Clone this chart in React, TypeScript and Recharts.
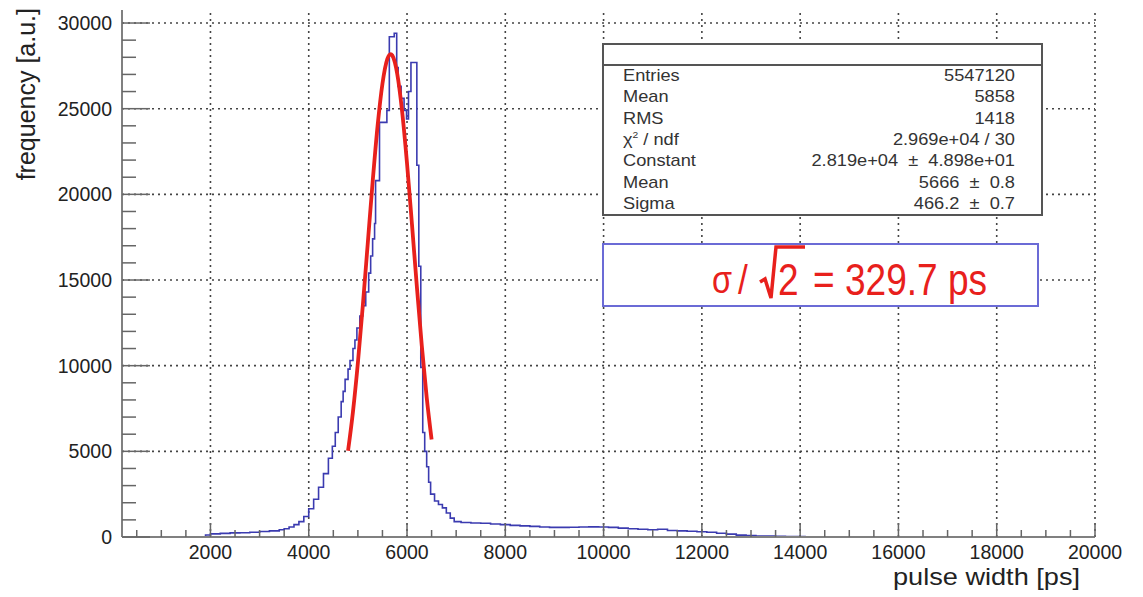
import React from 'react';
import { ComposedChart, Line, XAxis, YAxis, ReferenceLine } from 'recharts';

// Histogram: bin lower edges [ps] and counts
const histEdges = [
  1800, 1900, 2000, 2200, 2400, 2600, 2800, 3000, 3200, 3400, 3500, 3600, 3700, 3800, 3900,
  4000, 4100, 4200, 4300, 4400, 4480, 4540, 4600, 4660, 4700, 4740, 4800, 4840, 4900, 4940,
  4980, 5040, 5100, 5160, 5220, 5260, 5300, 5340, 5360, 5440, 5590, 5640, 5740, 5790, 5820,
  5880, 5940, 5990, 6030, 6080, 6200, 6240, 6280, 6320, 6360, 6400, 6440, 6480, 6560, 6640,
  6720, 6800, 6880, 6960, 7100, 7300, 7500, 7700, 7900, 8100, 8300, 8500, 8700, 8900, 9100,
  9300, 9500, 9700, 9900, 10100, 10300, 10500, 10700, 10900, 11100, 11300, 11500, 11700, 11900, 12100,
  12300, 12500, 12700, 12900, 13100, 13300, 13500, 13700, 13900, 14100, 14300, 14500,
];
const histCounts = [
  0, 120, 180, 210, 240, 250, 280, 320, 360, 420, 480, 580, 720, 900, 1200,
  1650, 2200, 2900, 3700, 4600, 5300, 6100, 7000, 7900, 8500, 9200, 9800, 10300, 11000, 11500,
  12200, 12900, 13500, 14300, 15400, 16400, 17400, 18300, 20800, 24200, 24900, 29200, 29400, 27400, 26300,
  25600, 24900, 24400, 26000, 27700, 21700, 15800, 9900, 6100, 5000, 4100, 3200, 2500, 2100, 1900,
  1700, 1400, 1100, 900, 850, 820, 800, 760, 720, 680, 650, 620, 580, 560, 560,
  570, 580, 590, 580, 560, 520, 480, 450, 420, 450, 380, 360, 340, 310, 280,
  220, 170, 110, 80, 60, 50, 40, 30, 25, 15, 10, 0,
];

// Gaussian fit curve
const fitX = [4800, 4900, 5000, 5100, 5200, 5300, 5400, 5500, 5600, 5666, 5700, 5800, 5900, 6000, 6100, 6200, 6300, 6400, 6500];
const fitY = [5030, 7310, 10160, 13490, 17100, 20710, 23960, 26460, 27910, 28190, 28110, 27050, 24850, 21810, 18280, 14630, 11180, 8160, 5690];

const xMajorTicks = [2000, 4000, 6000, 8000, 10000, 12000, 14000, 16000, 18000, 20000];
const yMajorTicks = [0, 5000, 10000, 15000, 20000, 25000, 30000];

const statsLabels = ['Entries', 'Mean', 'RMS', 'CHI', 'Constant', 'Mean', 'Sigma'];
const statsValues = ['5547120', '5858', '1418', '2.969e+04 / 30', '2.819e+04  ±  4.898e+01', '5666  ±  0.8', '466.2  ±  0.7'];

const X_MIN = 200;
const X_MAX = 20000;
const Y_MAX = 30760;

const xAllTicks: number[] = [];
for (let v = 500; v <= X_MAX; v += 500) xAllTicks.push(v);
const yAllTicks: number[] = [];
for (let v = 0; v <= 30000; v += 1000) yAllTicks.push(v);

const histData = histEdges.map((x, i) => ({ x, y: histCounts[i] }));
const fitData = fitX.map((x, i) => ({ x, y: fitY[i] }));

const FONT = '"Liberation Sans", Arial, Helvetica, sans-serif';
const GRID = { stroke: '#444', strokeDasharray: '2 4', strokeWidth: 1.6 };

const XTick = (props: any) => {
  const { x, y, payload } = props;
  const v = payload.value;
  const major = xMajorTicks.includes(v);
  return (
    <g>
      <line x1={x} x2={x} y1={y} y2={y - (major ? 14 : 7)} stroke="#666" strokeWidth={1.5} />
      {major && (
        <text x={x} y={y + 22} textAnchor="middle" fontSize={19.5} fill="#222" fontFamily={FONT}>
          {v}
        </text>
      )}
    </g>
  );
};

const YTick = (props: any) => {
  const { x, y, payload } = props;
  const v = payload.value;
  const major = yMajorTicks.includes(v);
  return (
    <g>
      <line x1={x} x2={x + (major ? 28 : 14)} y1={y} y2={y} stroke="#666" strokeWidth={1.5} />
      {major && (
        <text x={x - 10} y={y + 7} textAnchor="end" fontSize={19.5} fill="#222" fontFamily={FONT}>
          {v}
        </text>
      )}
    </g>
  );
};

const XTitle = (props: any) => {
  const vb = props.viewBox || { x: 0, y: 0, width: 0, height: 0 };
  const tx = vb.x + vb.width - 15;
  const ty = vb.y + 48;
  return (
    <text transform={`translate(${tx},${ty}) scale(1.18,1)`} textAnchor="end" fontSize={23} fill="#222" fontFamily={FONT}>
      pulse width [ps]
    </text>
  );
};

const YTitle = (props: any) => {
  const vb = props.viewBox || { x: 0, y: 0, width: 0, height: 0 };
  const tx = vb.x - 25;
  const ty = vb.y - 2;
  return (
    <text transform={`translate(${tx},${ty}) rotate(-90)`} textAnchor="end" fontSize={25} fill="#222" fontFamily={FONT}>
      frequency [a.u.]
    </text>
  );
};

const rowBaselines = [81, 102, 124, 145, 166, 188, 209];

export default function App() {
  return (
    <div style={{ position: 'absolute', left: 0, top: 0, width: 1143, height: 597, background: '#fff' }}>
      <ComposedChart width={1143} height={597} margin={{ top: 10, right: 48, bottom: 30, left: 60 }}>
        <XAxis
          type="number"
          dataKey="x"
          domain={[X_MIN, X_MAX]}
          ticks={xAllTicks}
          interval={0}
          tickSize={0}
          tickMargin={0}
          tickLine={false}
          allowDataOverflow
          height={30}
          axisLine={{ stroke: '#808080', strokeWidth: 2 }}
          tick={<XTick />}
          label={<XTitle />}
        />
        <YAxis
          type="number"
          dataKey="y"
          domain={[0, Y_MAX]}
          ticks={yAllTicks}
          interval={0}
          tickSize={0}
          tickMargin={0}
          tickLine={false}
          allowDataOverflow
          width={62}
          axisLine={{ stroke: '#808080', strokeWidth: 2 }}
          tick={<YTick />}
          label={<YTitle />}
        />
        <XAxis
          xAxisId="top"
          orientation="top"
          type="number"
          domain={[X_MIN, X_MAX]}
          height={0}
          tick={false}
          tickLine={false}
          axisLine={{ stroke: '#808080', strokeWidth: 2 }}
        />
        <YAxis
          yAxisId="right"
          orientation="right"
          type="number"
          domain={[0, Y_MAX]}
          width={0}
          tick={false}
          tickLine={false}
          axisLine={{ stroke: '#808080', strokeWidth: 2 }}
        />
        {xMajorTicks.map((v) => (
          <ReferenceLine key={'gx' + v} x={v} {...GRID} />
        ))}
        {yMajorTicks
          .filter((v) => v > 0)
          .map((v) => (
            <ReferenceLine key={'gy' + v} y={v} {...GRID} />
          ))}
        <Line
          data={histData}
          dataKey="y"
          type="stepAfter"
          stroke="#3b3bb0"
          strokeWidth={1.6}
          dot={false}
          activeDot={false}
          isAnimationActive={false}
        />
        <Line
          data={fitData}
          dataKey="y"
          type="monotone"
          stroke="#e8201c"
          strokeWidth={3.8}
          dot={false}
          activeDot={false}
          isAnimationActive={false}
        />
      </ComposedChart>
      <svg width={1143} height={597} style={{ position: 'absolute', left: 0, top: 0, pointerEvents: 'none' }}>
        <rect x={603} y={44} width={439} height={171} fill="#fff" stroke="#555" strokeWidth={2} />
        <line x1={603} x2={1042} y1={65} y2={65} stroke="#555" strokeWidth={2} />
        {statsLabels.map((lab, i) => (
          <text
            key={'l' + i}
            transform={`translate(623,${rowBaselines[i]}) scale(1.14,1)`}
            fontSize={16}
            fill="#333"
            fontFamily={FONT}
          >
            {lab === 'CHI' ? (
              <>
                <tspan>χ</tspan>
                <tspan fontSize={9} dy={-7}>2</tspan>
                <tspan dy={7}> / ndf</tspan>
              </>
            ) : (
              lab
            )}
          </text>
        ))}
        {statsValues.map((val, i) => (
          <text
            key={'v' + i}
            transform={`translate(1015,${rowBaselines[i]}) scale(1.14,1)`}
            textAnchor="end"
            fontSize={16}
            fill="#333"
            fontFamily={FONT}
            style={{ whiteSpace: 'pre' }}
          >
            {val}
          </text>
        ))}
        <rect x={603} y={244} width={435} height={62} fill="#fff" stroke="#6b6bd6" strokeWidth={2} />
        <text transform="translate(712,293) scale(0.9,1.1)" fontSize={36} fill="#e8201c" fontFamily={FONT}>σ</text>
        <text transform="translate(738,294) scale(0.95,1.1)" fontSize={37} fill="#e8201c" fontFamily={FONT}>/</text>
        <path d="M760,282 L765,279 L771,298 L776,247 L805,247" fill="none" stroke="#e8201c" strokeWidth={3.5} />
        <text transform="translate(778,295) scale(0.95,1.12)" fontSize={39} fill="#e8201c" fontFamily={FONT}>2</text>
        <text transform="translate(813,295) scale(0.95,1.12)" fontSize={39} fill="#e8201c" fontFamily={FONT} style={{ whiteSpace: 'pre' }}>
          = 329.7 ps
        </text>
      </svg>
    </div>
  );
}
